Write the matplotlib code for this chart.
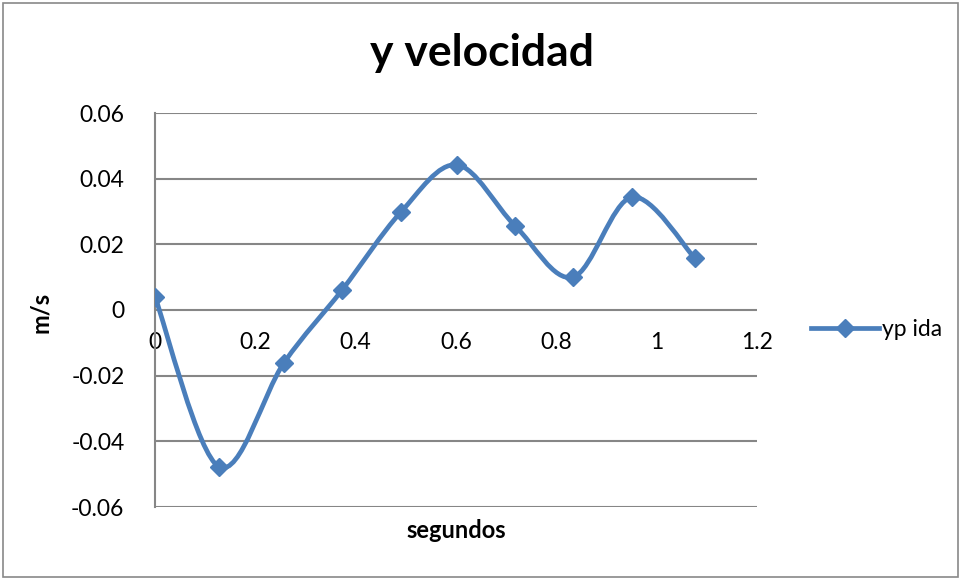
import numpy as np
import matplotlib.pyplot as plt
from matplotlib.path import Path
from matplotlib.patches import PathPatch, Rectangle
from matplotlib.lines import Line2D

plt.rcParams['font.family'] = ['Lato', 'DejaVu Sans']

# data
tiempo = [0.0, 0.128, 0.257, 0.373, 0.49, 0.602, 0.718, 0.833, 0.951, 1.076]
vel_y = [0.0040, -0.0478, -0.0161, 0.0061, 0.0298, 0.0442, 0.0256, 0.0100, 0.0344, 0.0158]
serie = "yp ida"
xticks = [0, 0.2, 0.4, 0.6, 0.8, 1, 1.2]
xtick_labels = ["0", "0.2", "0.4", "0.6", "0.8", "1", "1.2"]
yticks = [-0.06, -0.04, -0.02, 0, 0.02, 0.04, 0.06]
ytick_labels = ["-0.06", "-0.04", "-0.02", "0", "0.02", "0.04", "0.06"]

color = "#4a7ebb"
grid_c = "#868686"

fig = plt.figure(figsize=(9.61, 5.80), dpi=100)
fig.patches.append(Rectangle((0.003, 0.005), 0.994, 0.99, transform=fig.transFigure,
                             fill=False, edgecolor="#898989", linewidth=1.2))
ax = fig.add_axes([155/961, 1 - 507/580, (757 - 155)/961, (507 - 113)/580])

# smoothed line like excel (bezier through the points)
pts = np.column_stack([tiempo, vel_y])
verts = [pts[0]]
codes = [Path.MOVETO]
n = len(pts)
for i in range(n - 1):
    p0 = pts[i - 1] if i > 0 else pts[i]
    p1 = pts[i]
    p2 = pts[i + 1]
    p3 = pts[i + 2] if i + 2 < n else pts[i + 1]
    c1 = p1 + (p2 - p0) / 6
    c2 = p2 - (p3 - p1) / 6
    verts += [c1, c2, p2]
    codes += [Path.CURVE4] * 3
ax.add_patch(PathPatch(Path(verts, codes), facecolor="none", edgecolor=color,
                       linewidth=3.4, capstyle="round", joinstyle="round", zorder=3))
ax.plot(tiempo, vel_y, linestyle="none", marker="D", markersize=9,
        color=color, zorder=4)

ax.set_xlim(0, 1.2)
ax.set_ylim(-0.06, 0.06)
ax.set_xticks(xticks)
ax.set_xticklabels(xtick_labels)
ax.set_yticks(yticks)
ax.set_yticklabels(ytick_labels)
ax.tick_params(length=0, labelsize=16.5, colors="black")
ax.tick_params(axis="x", pad=16)
ax.tick_params(axis="y", pad=22)
ax.spines["bottom"].set_position(("data", 0))
ax.spines["bottom"].set_visible(False)
ax.spines["top"].set_visible(False)
ax.spines["right"].set_visible(False)
ax.spines["left"].set_color(grid_c)
ax.spines["left"].set_linewidth(1.5)
ax.grid(axis="y", color=grid_c, linewidth=1.5)
ax.set_axisbelow(True)

fig.text(482/961, 1 - 53/580, "y velocidad", fontsize=32, fontweight="bold",
         ha="center", va="center")
fig.text(40/961, 1 - 312/580, "m/s", fontsize=17, fontweight="bold",
         rotation=90, ha="center", va="center")
fig.text(456/961, 1 - 530/580, "segundos", fontsize=17, fontweight="bold",
         ha="center", va="center")

handle = Line2D([], [], color=color, linewidth=3.4, marker="D", markersize=9)
fig.legend([handle], [serie], loc="center left", bbox_to_anchor=(790/961, 1 - 330/580),
           frameon=False, fontsize=16.5, handlelength=3.0, handletextpad=0.1)

fig.savefig("out.png", dpi=100)
